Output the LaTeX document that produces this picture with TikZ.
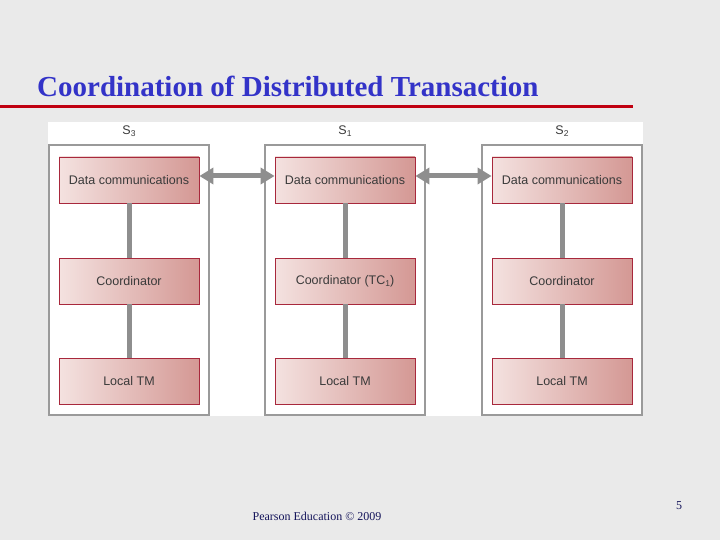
\documentclass[tikz,border=0pt]{standalone}
\usepackage{fontspec}
\setmainfont{Liberation Serif}
\newfontfamily\arialf{Liberation Sans}
\usetikzlibrary{arrows.meta}
\definecolor{bg}{HTML}{EAEAEA}
\definecolor{titleblue}{HTML}{3333C8}
\definecolor{rulered}{HTML}{C00010}
\definecolor{framegray}{HTML}{9A9A9A}
\definecolor{linkgray}{HTML}{8E8E8E}
\definecolor{boxleft}{HTML}{F4E2E0}
\definecolor{boxright}{HTML}{D49894}
\definecolor{boxborder}{HTML}{A8283C}
\definecolor{boxtext}{HTML}{3A3A3A}
\definecolor{footnavy}{HTML}{14145A}
\newcommand{\mysub}[1]{\raisebox{-2.5pt}{\fontsize{8.5}{9}\selectfont #1}}
\tikzset{
  sitebox/.style={draw=framegray, line width=2.5pt, fill=white, minimum width=160pt, minimum height=270pt, inner sep=0pt},
  compbox/.style={draw=boxborder, line width=0.8pt, left color=boxleft, right color=boxright, minimum width=140pt, minimum height=46pt, inner sep=0pt, font=\arialf\fontsize{12.5}{14}\selectfont, text=boxtext},
  sitelabel/.style={font=\arialf\fontsize{12.5}{14}\selectfont, text=boxtext},
  vlink/.style={draw=linkgray, line width=5pt},
  hlink/.style={draw=linkgray, line width=5pt, {Triangle[length=14pt,width=16pt]}-{Triangle[length=14pt,width=16pt]}}
}
\begin{document}
\begin{tikzpicture}[x=1pt,y=-1pt]
\useasboundingbox (0,0) rectangle (720,540);
\fill[bg] (0,0) rectangle (720,540);
% title
\node[anchor=base west, inner sep=0pt, font=\bfseries\fontsize{29}{32}\selectfont, text=titleblue] (title) at (37,97) {Coordination of Distributed Transaction};
\draw[rulered, line width=3pt] (0,107) -- (633,107);
% white panel
\fill[white] (48,122) rectangle (643,416);
% sites
\foreach \nm/\cx/\sub in {sthree/129/3, sone/345/1, stwo/562/2}{
  \node[sitebox] (\nm) at (\cx,280) {};
  \node[sitelabel] (\nm lab) at (\cx,131) {S\mysub{\sub}};
}
\foreach \nm/\cx/\coord in {sthree/129/Coordinator, sone/345/{Coordinator (TC\mysub{1})}, stwo/562/Coordinator}{
  \node[compbox] (\nm dc) at (\cx,180) {Data communications};
  \node[compbox] (\nm co) at (\cx,281) {\coord};
  \node[compbox] (\nm tm) at (\cx,381.5) {Local TM};
  \draw[vlink] (\nm dc.south) -- (\nm co.north);
  \draw[vlink] (\nm co.south) -- (\nm tm.north);
}
\draw[hlink] ([yshift=4pt]sthreedc.east) -- ([yshift=4pt]sonedc.west);
\draw[hlink] ([yshift=4pt]sonedc.east) -- ([yshift=4pt]stwodc.west);
% footer
\node[anchor=base, inner sep=0pt, font=\fontsize{12}{14}\selectfont, text=footnavy] (foot) at (317,520) {Pearson Education \textcopyright{} 2009};
\node[anchor=base, inner sep=0pt, font=\fontsize{12}{14}\selectfont, text=footnavy] (pnum) at (679,509) {5};
\end{tikzpicture}
\end{document}
